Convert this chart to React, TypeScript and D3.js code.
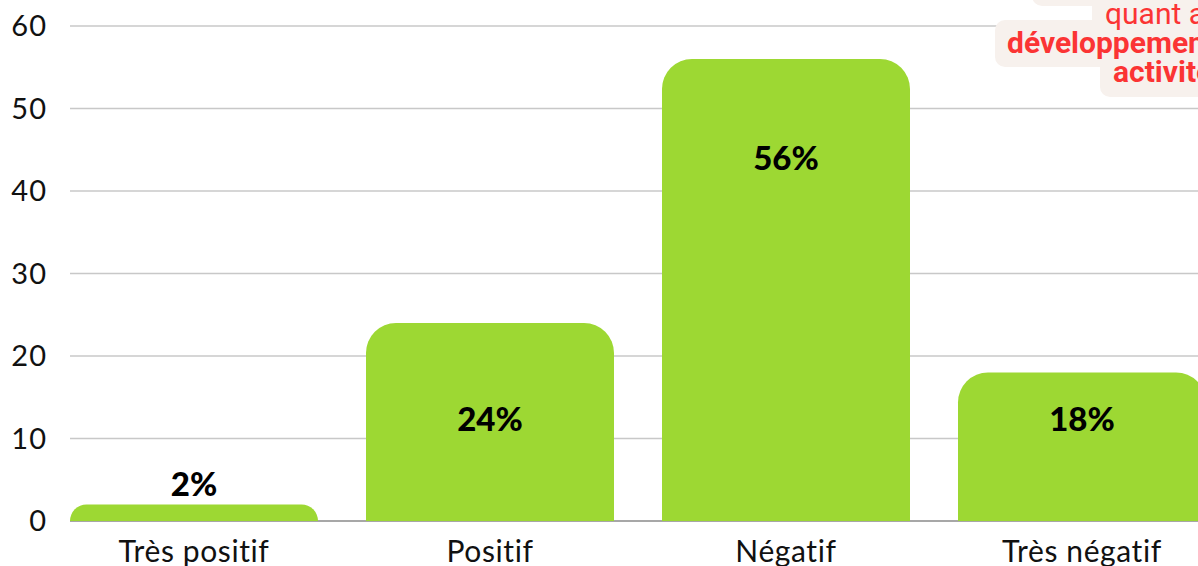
import React from "react";
import * as d3 from "d3";

const categories = ["Très positif", "Positif", "Négatif", "Très négatif"];
const values = [2, 24, 56, 18];
const yTicks = [0, 10, 20, 30, 40, 50, 60];
const noteLines = [
  { text: "quant aux", bold: false },
  { text: "développement des", bold: true },
  { text: "activités", bold: true },
];

const W = 1198;
const H = 566;
const GREEN = "#9dd833";
const RED = "#fb3434";
const BEIGE = "#f7f1ed";
const FONT = "Lato, 'Open Sans', sans-serif";

function topRoundedBar(x: number, y: number, w: number, h: number, r0: number) {
  const r = Math.min(r0, h, w / 2);
  return `M${x},${y + h}V${y + r}A${r},${r} 0 0 1 ${x + r},${y}H${x + w - r}A${r},${r} 0 0 1 ${x + w},${y + r}V${y + h}Z`;
}

export default function App() {
  const x = d3.scaleBand<string>().domain(categories).range([70, 1206]).paddingInner(48 / 296).paddingOuter(0);
  const y = d3.scaleLinear().domain([0, 60]).range([521, 26]);
  const bw = x.bandwidth();

  return (
    <svg width={W} height={H} style={{ position: "absolute", left: 0, top: 0, background: "#fff" }}>
      {yTicks.map((t) => (
        <g key={t}>
          {t > 0 && <line x1={70} x2={W} y1={y(t)} y2={y(t)} stroke="#c8c8c8" strokeWidth={1.5} />}
          <text x={47} y={y(t) + 10} textAnchor="end" fontFamily={FONT} fontSize={29} letterSpacing={1} fill="#111">
            {t}
          </text>
        </g>
      ))}
      <line x1={70} x2={W} y1={y(0)} y2={y(0)} stroke="#8a8a8a" strokeWidth={1.5} />
      {categories.map((c, i) => {
        const v = values[i];
        const bx = x(c)!;
        const by = y(v);
        const h = y(0) - by;
        const inside = h > 60;
        const ly = inside ? Math.min(by + 111, y(0) - 90) : by - 9;
        return (
          <g key={c}>
            <path d={topRoundedBar(bx, by, bw, h, 30)} fill={GREEN} />
            <text x={bx + bw / 2} y={ly} textAnchor="middle" fontFamily={FONT} fontWeight={900} fontSize={33} fill="#000">
              {v}%
            </text>
            <text x={bx + bw / 2} y={562} textAnchor="middle" fontFamily={FONT} fontSize={30} letterSpacing={0.6} fill="#111">
              {c}
            </text>
          </g>
        );
      })}
      <g>
        <rect x={1032} y={-40} width={240} height={46} rx={10} fill={BEIGE} />
        <rect x={1092} y={-10} width={180} height={40} rx={10} fill={BEIGE} />
        <rect x={995} y={20} width={280} height={47} rx={10} fill={BEIGE} />
        <rect x={1100} y={55} width={180} height={42} rx={10} fill={BEIGE} />
        {noteLines.map((l, i) => (
          <text
            key={i}
            x={[1105, 1007, 1113][i]}
            y={24 + i * 29}
            fontFamily="Roboto, sans-serif"
            fontWeight={l.bold ? 700 : 400}
            fontSize={30}
            fill={RED}
          >
            {l.text}
          </text>
        ))}
      </g>
    </svg>
  );
}
